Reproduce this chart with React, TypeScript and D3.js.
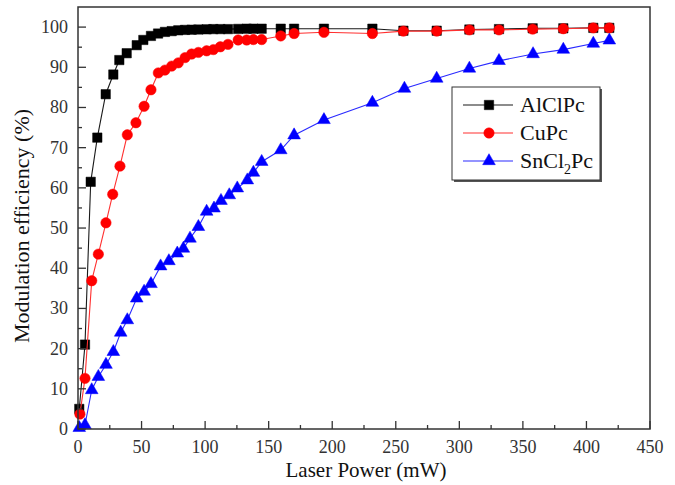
import React from "react";
import * as d3 from "d3";

const alclpcX = [1, 5.5, 10, 15.2, 21.8, 27.8, 32.5, 38.3, 46.2, 51.4, 57.4, 63, 68.4, 73.7, 78.9, 84.2, 89.4, 94.7, 101.2, 106.5, 112, 118, 126, 132.7, 138, 144.5, 159.5, 170, 193.5, 231.6, 256, 282.2, 307.9, 331.2, 357.7, 381.8, 405.4, 418];
const alclpcY = [5, 21, 61.5, 72.5, 83.3, 88.2, 91.8, 93.5, 95.5, 96.8, 97.8, 98.4, 98.8, 99.0, 99.2, 99.3, 99.35, 99.4, 99.45, 99.5, 99.5, 99.5, 99.55, 99.6, 99.6, 99.6, 99.6, 99.6, 99.6, 99.6, 99.1, 99.1, 99.4, 99.5, 99.7, 99.7, 99.8, 99.8];

const cupcX = [1.5, 5.5, 10.8, 16, 22, 27.3, 33, 38.8, 45.6, 52, 57.4, 63.2, 68.4, 73.7, 78.9, 84.2, 89.4, 94.7, 101.2, 106.5, 112, 118, 126, 132.7, 138, 144.5, 159.5, 170, 193.5, 231.6, 256, 282.2, 307.9, 331.2, 357.7, 381.8, 405.4, 418];
const cupcY = [3.7, 12.6, 36.9, 43.5, 51.3, 58.4, 65.4, 73.2, 76.2, 80.3, 84.4, 88.6, 89.3, 90.3, 91.1, 92.4, 93.3, 93.7, 94.1, 94.4, 95.1, 95.7, 96.8, 96.8, 96.9, 96.9, 97.8, 98.4, 98.7, 98.4, 99, 99, 99.3, 99.3, 99.5, 99.6, 99.8, 99.8];

const sncl2pcX = [1, 5.5, 10.8, 16, 22, 27.8, 33.6, 38.8, 46.2, 52, 57.4, 65, 71.5, 78.1, 82.9, 88.1, 94.7, 101.2, 107, 112.5, 119, 125.3, 133.2, 138, 144.5, 159.5, 170, 193.5, 231.6, 256.8, 282.2, 307.9, 331.2, 358, 381.8, 405.4, 418];
const sncl2pcY = [0.3, 1, 9.7, 13, 16, 19.2, 24, 27.1, 32.5, 34.2, 36.1, 40.5, 41.8, 43.7, 44.9, 47.4, 50.3, 54.1, 54.9, 56.8, 58.2, 59.9, 61.9, 63.8, 66.5, 69.4, 73.1, 76.9, 81.2, 84.7, 87.2, 89.7, 91.6, 93.3, 94.4, 95.9, 96.7];

const xTicks = [0, 50, 100, 150, 200, 250, 300, 350, 400, 450];
const yTicks = [0, 10, 20, 30, 40, 50, 60, 70, 80, 90, 100];

const W = 675;
const H = 485;
const FONT = "'Liberation Serif', 'Times New Roman', serif";

export default function App() {
  const x = d3.scaleLinear().domain([0, 450]).range([78, 650]);
  const y = d3.scaleLinear().domain([0, 105]).range([429, 7]);

  const series = [
    { name: "AlClPc", xs: alclpcX, ys: alclpcY, color: "#000000", line: "#1a1a1a", symbol: d3.symbolSquare, size: 88 },
    { name: "CuPc", xs: cupcX, ys: cupcY, color: "#ff0000", line: "#ff3030", symbol: d3.symbolCircle, size: 85 },
    { name: "SnCl2Pc", xs: sncl2pcX, ys: sncl2pcY, color: "#0000ff", line: "#2a2aff", symbol: d3.symbolTriangle, size: 70 },
  ];

  const line = d3.line<[number, number]>().x((d) => x(d[0])).y((d) => y(d[1]));

  const xMinor = d3.range(25, 450, 50);
  const yMinor = d3.range(5, 100, 10);

  const legendY = [105, 133, 161];

  return (
    <svg width={W} height={H} style={{ position: "absolute", left: 0, top: 0, background: "#fff" }}>
      <rect x={0} y={0} width={W} height={H} fill="#fff" />
      {series.map((s) => {
        const pts: [number, number][] = s.xs.map((v, i) => [v, s.ys[i]]);
        const sym = d3.symbol().type(s.symbol).size(s.size)();
        return (
          <g key={s.name}>
            <path d={line(pts) || ""} fill="none" stroke={s.line} strokeWidth={1.1} />
            {pts.map((p, i) => (
              <path key={i} d={sym || ""} transform={`translate(${x(p[0])},${y(p[1])})`} fill={s.color} stroke={s.color} strokeWidth={0.5} />
            ))}
          </g>
        );
      })}
      <rect x={78} y={7} width={650 - 78} height={429 - 7} fill="none" stroke="#333" strokeWidth={1.5} />
      {xTicks.map((t) => (
        <g key={"xt" + t}>
          <line x1={x(t)} x2={x(t)} y1={429} y2={421} stroke="#333" strokeWidth={1.3} />
          <text x={x(t)} y={453} textAnchor="middle" fontFamily={FONT} fontSize={18} fill="#333">{t}</text>
        </g>
      ))}
      {xMinor.map((t) => (
        <line key={"xm" + t} x1={x(t)} x2={x(t)} y1={429} y2={425} stroke="#333" strokeWidth={1.3} />
      ))}
      {yTicks.map((t) => (
        <g key={"yt" + t}>
          <line x1={78} x2={86} y1={y(t)} y2={y(t)} stroke="#333" strokeWidth={1.3} />
          <text x={68} y={y(t) + 6} textAnchor="end" fontFamily={FONT} fontSize={18} fill="#333">{t}</text>
        </g>
      ))}
      {yMinor.map((t) => (
        <line key={"ym" + t} x1={78} x2={82} y1={y(t)} y2={y(t)} stroke="#333" strokeWidth={1.3} />
      ))}
      <text x={366} y={477} textAnchor="middle" fontFamily={FONT} fontSize={21} fill="#111">Laser Power (mW)</text>
      <text transform="translate(29,226) rotate(-90)" textAnchor="middle" fontFamily={FONT} fontSize={22} fill="#111">Modulation efficiency (%)</text>
      <rect x={454} y={89} width={148} height={93} fill="#555" />
      <rect x={452} y={87} width={148} height={93} fill="#fff" stroke="#333" strokeWidth={1} />
      {series.map((s, i) => {
        const sym = d3.symbol().type(s.symbol).size(s.size)();
        const ly = legendY[i];
        return (
          <g key={"lg" + s.name}>
            <line x1={463} x2={513} y1={ly} y2={ly} stroke={s.line} strokeWidth={1.1} />
            <path d={sym || ""} transform={`translate(489,${ly})`} fill={s.color} stroke={s.color} strokeWidth={0.5} />
            <text x={520} y={ly + 7} fontFamily={FONT} fontSize={22} fill="#111">
              {s.name === "SnCl2Pc" ? (
                <>
                  SnCl<tspan fontSize={14} dy={6}>2</tspan><tspan dy={-6}>Pc</tspan>
                </>
              ) : (
                s.name
              )}
            </text>
          </g>
        );
      })}
    </svg>
  );
}
